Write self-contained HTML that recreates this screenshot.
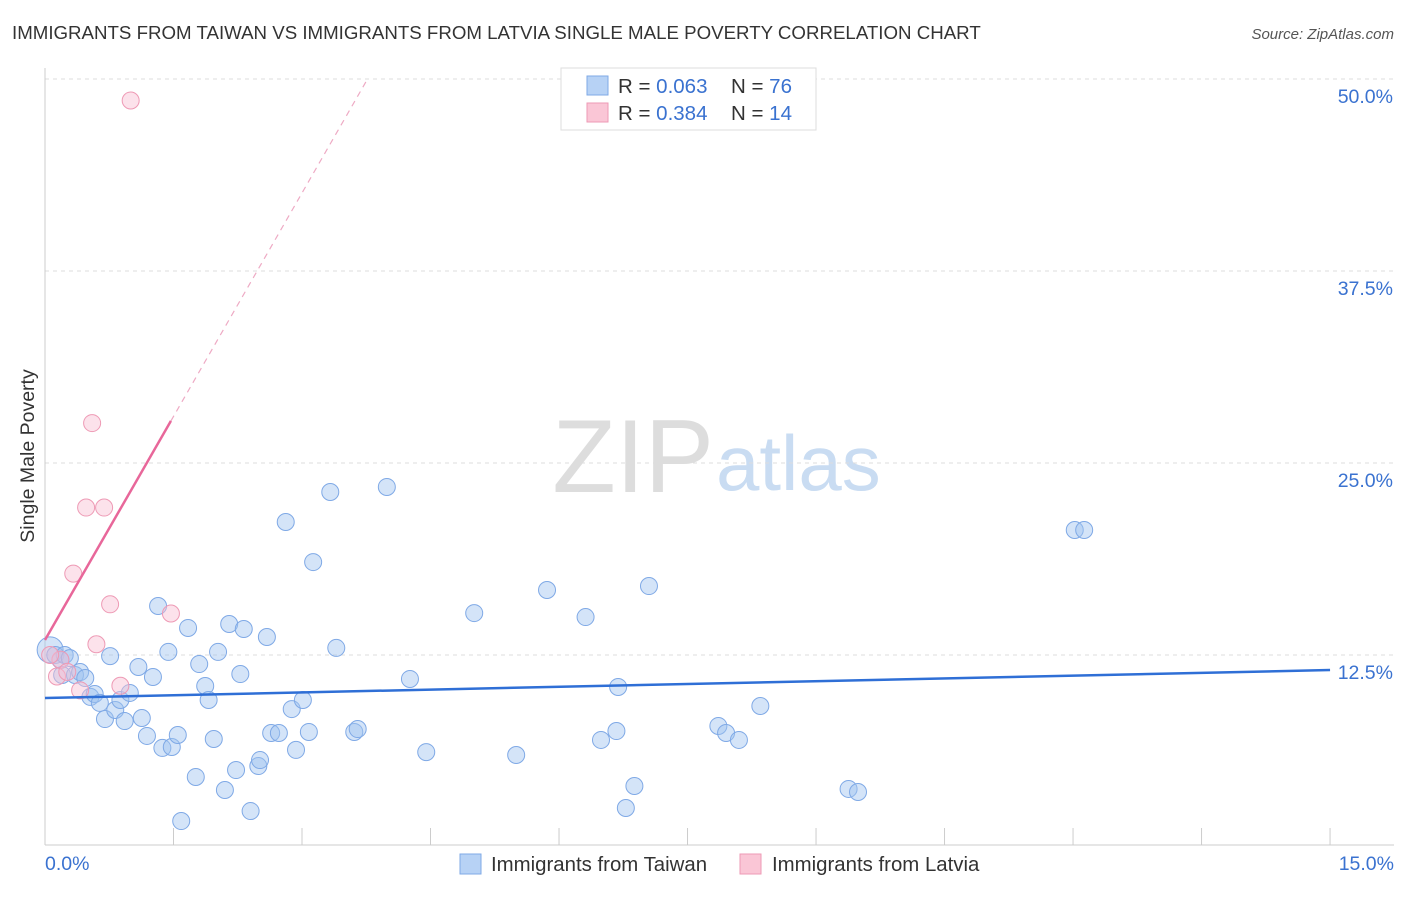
<!DOCTYPE html>
<html><head><meta charset="utf-8"><style>
body{margin:0;background:#fff;font-family:"Liberation Sans",sans-serif;}
svg text{font-family:"Liberation Sans",sans-serif;}
</style></head><body>
<svg id="chart" width="1406" height="892">
<text x="12" y="39" font-size="18.7" fill="#333">IMMIGRANTS FROM TAIWAN VS IMMIGRANTS FROM LATVIA SINGLE MALE POVERTY CORRELATION CHART</text>
<text x="1394" y="39" font-size="15" fill="#555" font-style="italic" text-anchor="end">Source: ZipAtlas.com</text>
<text x="34" y="456" font-size="19.5" fill="#333" text-anchor="middle" transform="rotate(-90 34 456)">Single Male Poverty</text>
<text x="714" y="492" font-size="104" fill="#ddd" text-anchor="end" font-family="Liberation Serif">ZIP</text>
<text x="716" y="490" font-size="78" fill="#c9dcf2">atlas</text>
<g id="grid"></g><g id="pts"></g><g id="lines"></g>
<g>
<rect x="561" y="68" width="255" height="62" fill="#fff" stroke="#ddd"/>
<rect x="587" y="76" width="21" height="19" fill="#b7d2f5" stroke="#7fa9e6"/>
<rect x="587" y="103" width="21" height="19" fill="#fac6d6" stroke="#ee9ab5"/>
<text x="618" y="93" font-size="20.5" fill="#333">R = <tspan fill="#3a72d0">0.063</tspan><tspan x="731">N = </tspan><tspan fill="#3a72d0">76</tspan></text>
<text x="618" y="120" font-size="20.5" fill="#333">R = <tspan fill="#3a72d0">0.384</tspan><tspan x="731">N = </tspan><tspan fill="#3a72d0">14</tspan></text>
</g>
<g>
<rect x="460" y="854" width="21" height="20" fill="#b7d2f5" stroke="#7fa9e6"/>
<text x="491" y="871" font-size="20.4" fill="#333">Immigrants from Taiwan</text>
<rect x="740" y="854" width="21" height="20" fill="#fac6d6" stroke="#ee9ab5"/>
<text x="772" y="871" font-size="20.4" fill="#333">Immigrants from Latvia</text>
</g>
</svg>
<script>
const taiwanX=[0.06,0.12,0.18,0.23,0.29,0.2,0.35,0.41,0.47,0.53,0.58,0.64,0.7,0.76,0.82,0.88,0.93,0.99,1.09,1.13,1.19,1.26,1.32,1.37,1.44,1.48,1.55,1.59,1.67,1.76,1.8,1.87,1.91,1.97,2.02,2.1,2.15,2.23,2.28,2.32,2.4,2.49,2.51,2.59,2.64,2.73,2.81,2.88,2.93,3.01,3.08,3.13,3.33,3.4,3.61,3.65,3.99,4.26,4.45,5.01,5.5,5.86,6.31,6.49,6.67,6.69,6.78,6.88,7.05,7.86,7.95,8.1,8.35,9.38,9.49,12.02,12.13];
const taiwanY=[12.83,12.5,12.17,12.5,12.3,11.2,11.2,11.39,11.0,9.77,9.96,9.38,8.33,12.43,8.92,9.57,8.2,10.03,11.72,8.4,7.23,11.07,15.69,6.45,12.7,6.51,7.29,1.69,14.26,4.56,11.91,10.48,9.57,7.03,12.7,3.71,14.52,5.01,11.26,14.19,2.34,5.27,5.66,13.67,7.42,7.42,21.16,8.98,6.32,9.57,7.49,18.55,23.11,12.96,7.49,7.68,23.44,10.94,6.18,15.23,5.99,16.73,14.97,6.97,7.55,10.42,2.54,3.97,16.99,7.88,7.42,6.97,9.18,3.78,3.58,20.64,20.64];
const latviaX=[1.0,0.55,0.48,0.69,0.33,0.76,1.47,0.6,0.14,0.18,0.26,0.41,0.88,0.06];
const latviaY=[48.6,27.6,22.1,22.1,17.8,15.8,15.2,13.2,11.1,12.2,11.4,10.2,10.5,12.5];
const yTicks=[12.5,25.0,37.5,50.0];
const xTicks=[0,1.5,3,4.5,6,7.5,9,10.5,12,13.5,15];
const blueTrend=[9.7,11.52];
const pinkTrend=[13.48,9.7];
const X=v=>45+v*85.67, Y=v=>847-v*15.36;
const NS='http://www.w3.org/2000/svg';
function mk(t,a,p){const e=document.createElementNS(NS,t);for(const k in a)e.setAttribute(k,a[k]);p.appendChild(e);return e;}
const g=document.getElementById('grid'),P=document.getElementById('pts'),L=document.getElementById('lines');
yTicks.forEach(t=>{
 const l=mk('line',{x1:45,x2:1394,y1:Y(t),y2:Y(t),stroke:'#ddd','stroke-dasharray':'4,4'},g);
 
 
 const tx=mk('text',{x:1393,y:Y(t)+24,'font-size':19.5,fill:'#3a72d0','text-anchor':'end'},g);tx.textContent=t.toFixed(1)+'%';
 
 
});
mk('line',{x1:45,x2:45,y1:68,y2:845,stroke:'#ccc'},g);
mk('line',{x1:45,x2:1394,y1:845,y2:845,stroke:'#ccc'},g);
xTicks.forEach(t=>{const l=mk('line',{x1:X(t),x2:X(t),y1:828,y2:845,stroke:'#ccc'},g);
 
 });
let a=mk('text',{x:45,y:870,'font-size':19.5,fill:'#3a72d0'},g);a.textContent='0.0%';


a=mk('text',{x:1394,y:870,'font-size':19.5,fill:'#3a72d0','text-anchor':'end'},g);a.textContent='15.0%';


taiwanX.forEach((x,i)=>{const c=mk('circle',{cx:X(x),cy:Y(taiwanY[i]),r:i==0?13:8.5,fill:'rgba(160,195,240,0.45)',stroke:'#7fa9e6','stroke-width':1},P);
 
 });
latviaX.forEach((x,i)=>{const c=mk('circle',{cx:X(x),cy:Y(latviaY[i]),r:8.5,fill:'rgba(248,190,210,0.45)',stroke:'#ee9ab5','stroke-width':1},P);
 
 });
let b=mk('line',{x1:X(0),y1:Y(blueTrend[0]),x2:X(15),y2:Y(blueTrend[1]),stroke:'#2f6fd6','stroke-width':2.5},L);


const xe=Math.max(...latviaX), xd=(50-pinkTrend[0])/pinkTrend[1];
b=mk('line',{x1:X(0),y1:Y(pinkTrend[0]),x2:X(xe),y2:Y(pinkTrend[0]+pinkTrend[1]*xe),stroke:'#e8679a','stroke-width':2.5},L);


b=mk('line',{x1:X(xe),y1:Y(pinkTrend[0]+pinkTrend[1]*xe),x2:X(xd),y2:Y(50),stroke:'#eeaac4','stroke-width':1.2,'stroke-dasharray':'6,5'},L);


</script>
</body></html>
